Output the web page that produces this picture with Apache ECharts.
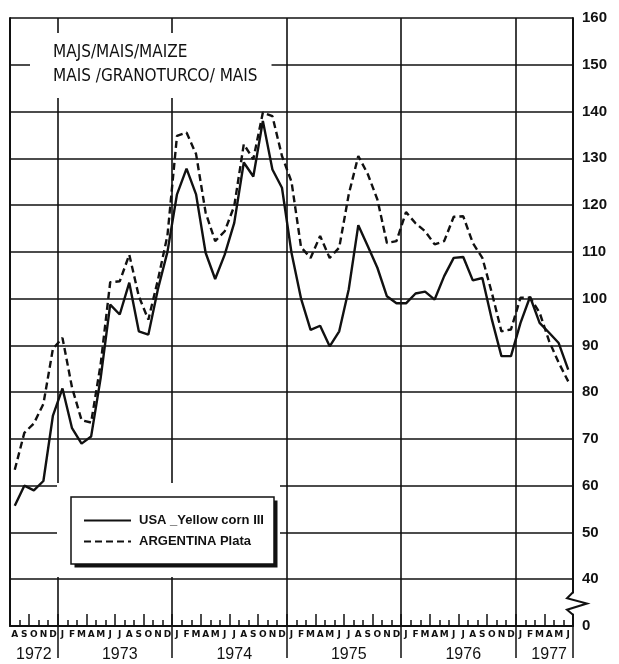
<!DOCTYPE html>
<html>
<head>
<meta charset="utf-8">
<script src="https://cdn.jsdelivr.net/npm/echarts@6/dist/echarts.min.js"></script>
<style>
  html, body { margin: 0; padding: 0; background: #fff; }
  #chart { width: 619px; height: 664px; }
</style>
</head>
<body>
<div id="chart"></div>
<script>
// Monthly categories, August 1972 to June 1977
const months = [
  '1972-08','1972-09','1972-10','1972-11','1972-12',
  '1973-01','1973-02','1973-03','1973-04','1973-05','1973-06','1973-07','1973-08','1973-09','1973-10','1973-11','1973-12',
  '1974-01','1974-02','1974-03','1974-04','1974-05','1974-06','1974-07','1974-08','1974-09','1974-10','1974-11','1974-12',
  '1975-01','1975-02','1975-03','1975-04','1975-05','1975-06','1975-07','1975-08','1975-09','1975-10','1975-11','1975-12',
  '1976-01','1976-02','1976-03','1976-04','1976-05','1976-06','1976-07','1976-08','1976-09','1976-10','1976-11','1976-12',
  '1977-01','1977-02','1977-03','1977-04','1977-05','1977-06'
];
const monthInitials = ['J','F','M','A','M','J','J','A','S','O','N','D'];

// Year captions and the month each one sits under
const yearTicks = ['1972','1973','1974','1975','1976','1977'];
const yearLabelMonths = ['1972-10','1973-07','1974-07','1975-07','1976-07','1977-04'];

// Price index values
const usaYellowCorn = [
  55.7, 60.0, 59.0, 61.0, 75.0,
  80.8, 72.3, 69.0, 70.5, 83.0, 98.7, 96.6, 103.4, 93.0, 92.3, 102.0, 110.0,
  122.3, 127.8, 122.3, 109.8, 104.2, 109.4, 116.2, 129.1, 126.1, 138.0, 127.6, 123.7,
  109.8, 100.0, 93.3, 94.2, 89.8, 93.0, 102.0, 115.7, 111.2, 106.6, 100.5, 99.0,
  99.0, 101.1, 101.5, 99.8, 104.8, 108.7, 108.9, 103.9, 104.4, 95.5, 87.7, 87.7,
  94.8, 100.4, 94.8, 92.7, 90.5, 84.8
];
const argentinaPlata = [
  63.4, 71.3, 73.3, 77.5, 89.3,
  91.6, 81.0, 74.0, 73.5, 86.0, 103.5, 103.7, 109.4, 100.5, 95.5, 104.0, 113.5,
  134.8, 135.5, 130.9, 118.4, 112.3, 114.4, 119.8, 133.0, 129.8, 139.8, 139.0, 130.5,
  125.0, 111.0, 108.7, 113.4, 108.7, 110.9, 122.3, 130.5, 126.6, 121.2, 111.9, 112.3,
  118.5, 116.1, 114.4, 111.6, 112.3, 117.5, 117.6, 111.9, 108.7, 101.2, 93.0, 93.4,
  100.2, 100.2, 97.0, 90.9, 86.3, 82.3
];

// Value axis: the bottom slot (30) carries the broken-axis "0"
const yTicks = [30, 40, 50, 60, 70, 80, 90, 100, 110, 120, 130, 140, 150, 160];
const yTickLabels = ['0','40','50','60','70','80','90','100','110','120','130','140','150','160'];

const seriesNames = ['USA _Yellow corn III', 'ARGENTINA Plata'];
const titleLines = ['MAJS/MAIS/MAIZE', 'MAIS /GRANOTURCO/ MAIS'];

const ink = '#111';
const sans = "'Liberation Sans', Arial, sans-serif";
const GRID = { left: 10, right: 46, top: 18, bottom: 38 };

const chart = echarts.init(document.getElementById('chart'), null, { renderer: 'canvas' });

const isJanuary = (i, v) => v.slice(5) === '01';
const isQuarter = (i, v) => ['01', '04', '07', '10'].includes(v.slice(5));

const baseX = { type: 'category', data: months, boundaryGap: true, position: 'bottom', gridIndex: 0 };

chart.setOption({
  animation: false,
  backgroundColor: '#fff',
  title: {
    text: titleLines.join('\n'),
    left: 30, top: 33,
    padding: [8, 14, 9, 23],
    backgroundColor: '#fff',
    textStyle: { fontFamily: "'DejaVu Sans Condensed', sans-serif", fontWeight: 'normal', fontSize: 17, lineHeight: 24, color: ink }
  },
  legend: {
    orient: 'vertical',
    left: 83, top: 514,
    padding: 0,
    itemWidth: 47, itemHeight: 14, itemGap: 8,
    data: seriesNames,
    itemStyle: { opacity: 0, color: 'transparent', borderColor: 'transparent', borderWidth: 0 },
    textStyle: { fontFamily: sans, fontWeight: 'bold', fontSize: 13, color: ink, padding: [0, 0, 0, 3] }
  },
  grid: { left: GRID.left, right: GRID.right, top: GRID.top, bottom: GRID.bottom, containLabel: false },
  xAxis: [
    Object.assign({}, baseX, {
      axisLine: { show: true, onZero: false, lineStyle: { color: ink, width: 2 } },
      axisTick: { show: true, inside: true, length: 6, interval: 0, lineStyle: { color: ink, width: 1.5 } },
      axisLabel: {
        interval: 0, margin: 4,
        formatter: v => monthInitials[parseInt(v.slice(5), 10) - 1],
        fontFamily: "'DejaVu Sans', sans-serif", fontWeight: 'bold', fontSize: 9, color: ink
      },
      splitLine: { show: true, interval: isJanuary, lineStyle: { color: ink, width: 1.6 } }
    }),
    Object.assign({}, baseX, {
      axisLine: { show: false, onZero: false },
      axisTick: { show: true, inside: true, length: 12, interval: isQuarter, lineStyle: { color: ink, width: 1.5 } },
      axisLabel: {
        show: true, margin: 21,
        interval: (i, v) => yearLabelMonths.includes(v),
        formatter: v => yearTicks[yearLabelMonths.indexOf(v)],
        fontFamily: sans, fontWeight: 'normal', fontSize: 16, color: ink
      },
      splitLine: { show: false }
    }),
    Object.assign({}, baseX, {
      axisLine: { show: false, onZero: false },
      axisTick: { show: true, inside: false, length: 32, interval: isJanuary, lineStyle: { color: ink, width: 1.5 } },
      axisLabel: { show: false },
      splitLine: { show: false }
    })
  ],
  yAxis: [
    {
      type: 'value', position: 'right', min: 30, max: 160, interval: 10,
      axisLine: { show: true, onZero: false, lineStyle: { color: ink, width: 2 } },
      axisTick: { show: false },
      axisLabel: {
        margin: 9,
        formatter: v => yTickLabels[yTicks.indexOf(v)],
        fontFamily: sans, fontWeight: 'bold', fontSize: 15, color: ink
      },
      splitLine: { show: true, lineStyle: { color: ink, width: 1.6 } }
    },
    {
      type: 'value', position: 'left', min: 30, max: 160, interval: 10,
      axisLine: { show: true, onZero: false, lineStyle: { color: ink, width: 2 } },
      axisTick: { show: false }, axisLabel: { show: false }, splitLine: { show: false }
    }
  ],
  series: [
    {
      name: seriesNames[0], type: 'line', data: usaYellowCorn,
      xAxisIndex: 0, yAxisIndex: 0, symbol: 'none', z: 3,
      lineStyle: { color: ink, width: 2.4, type: 'solid' },
      itemStyle: { color: ink }
    },
    {
      name: seriesNames[1], type: 'line', data: argentinaPlata,
      xAxisIndex: 0, yAxisIndex: 0, symbol: 'none', z: 3,
      lineStyle: { color: ink, width: 2.4, type: [7, 4] },
      itemStyle: { color: ink }
    }
  ]
});

// Decorations: legend frame with drop shadow and the broken-axis zigzag
const right = 619 - GRID.right;
const yAt = v => chart.convertToPixel({ yAxisIndex: 0 }, v);
const zTop = yAt(37.2), zBot = yAt(32.4);
const zMid = (zTop + zBot) / 2;

chart.setOption({
  graphic: [
    { type: 'rect', z: 1, silent: true, shape: { x: 57, y: 483, width: 223, height: 94 }, style: { fill: '#fff' } },
    { type: 'rect', z: 1, silent: true, shape: { x: 74.5, y: 500.5, width: 203, height: 67 }, style: { fill: ink } },
    { type: 'rect', z: 1, silent: true, shape: { x: 71, y: 497, width: 203, height: 67 }, style: { fill: '#fff', stroke: ink, lineWidth: 1.5 } },
    { type: 'rect', z: 5, silent: true, shape: { x: right - 3, y: zTop + 1, width: 6, height: zBot - zTop - 2 }, style: { fill: '#fff' } },
    {
      type: 'polyline', z: 6, silent: true,
      shape: { points: [[right, zTop], [right - 6, zTop + 6], [right + 14, zMid], [right - 6, zBot - 5], [right, zBot]] },
      style: { stroke: ink, lineWidth: 2, fill: null }
    }
  ]
});
</script>
</body>
</html>
